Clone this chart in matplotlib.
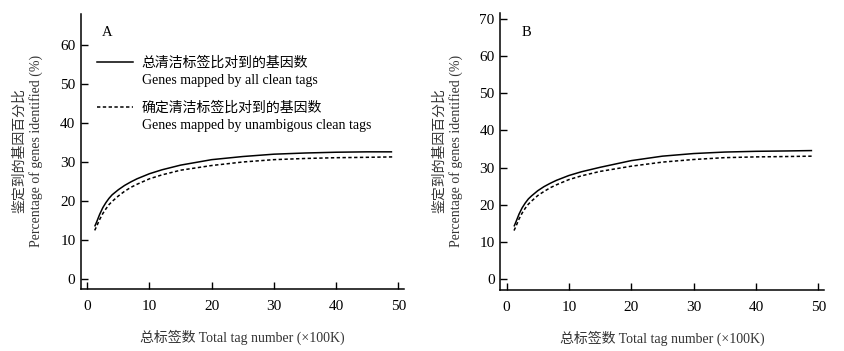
import matplotlib
matplotlib.use("Agg")
import matplotlib.pyplot as plt
from matplotlib.lines import Line2D

plt.rcParams['font.family'] = ['Liberation Serif', 'Noto Sans CJK SC']
plt.rcParams['font.size'] = 10

# Data
x_tags = [1.2, 1.5, 2, 2.5, 3, 3.5, 4, 5, 6, 7, 8, 10, 12, 15, 20, 25, 30, 35, 40, 45, 49]
a_all = [13.5, 14.6, 16.6, 18.3, 19.6, 20.7, 21.6, 22.9, 24.0, 24.9, 25.7, 27.0, 28.0, 29.2, 30.6, 31.4, 32.0, 32.3, 32.5, 32.6, 32.6]
a_unamb = [12.5, 13.5, 15.3, 16.8, 18.0, 19.1, 19.9, 21.3, 22.5, 23.5, 24.3, 25.7, 26.7, 27.9, 29.1, 30.0, 30.6, 30.9, 31.1, 31.2, 31.3]
b_all = [14.2, 15.4, 17.5, 19.2, 20.5, 21.6, 22.4, 23.8, 24.9, 25.8, 26.6, 27.9, 28.9, 30.1, 31.9, 33.1, 33.8, 34.2, 34.4, 34.5, 34.6]
b_unamb = [13.1, 14.2, 16.2, 17.8, 19.1, 20.2, 21.0, 22.5, 23.6, 24.6, 25.4, 26.8, 27.8, 29.0, 30.4, 31.5, 32.2, 32.7, 32.9, 33.0, 33.1]

xticks = [0, 10, 20, 30, 40, 50]
yticks_a = [0, 10, 20, 30, 40, 50, 60]
yticks_b = [0, 10, 20, 30, 40, 50, 60, 70]

label_all_zh = "总清洁标签比对到的基因数"
label_all_en = "Genes mapped by all clean tags"
label_un_zh = "确定清洁标签比对到的基因数"
label_un_en = "Genes mapped by unambigous clean tags"
ylabel_zh = "鉴定到的基因百分比"
ylabel_en = "Percentage of genes identified (%)"
xlabel = "总标签数 Total tag number (×100K)"

W, H = 844, 351
fig = plt.figure(figsize=(W / 100, H / 100), dpi=100)

def make_axes(l, r, b, t):
    return fig.add_axes([l / W, 1 - b / H, (r - l) / W, (b - t) / H])

axA = make_axes(81, 404, 289, 13.5)
axB = make_axes(500.3, 824, 289.7, 13.3)

dash = (0, (2.2, 1.6))
text_col = '#333333'

for ax, ya, yu, yt, ylim, letter in [
    (axA, a_all, a_unamb, yticks_a, (-2.5, 68), 'A'),
    (axB, b_all, b_unamb, yticks_b, (-2.8, 71.5), 'B'),
]:
    ax.plot(x_tags, ya, color='black', lw=1.1, solid_capstyle='butt')
    ax.plot(x_tags, yu, color='black', lw=1.1, linestyle=dash)
    ax.set_xlim(-1.0, 50.9)
    ax.set_ylim(*ylim)
    ax.set_xticks(xticks)
    ax.set_yticks(yt)
    for s in ['top', 'right']:
        ax.spines[s].set_visible(False)
    for s in ['left', 'bottom']:
        ax.spines[s].set_linewidth(1.1)
    ax.tick_params(direction='in', length=5, width=1.0, labelsize=11)
    ax.tick_params(axis='x', pad=8)
    ax.tick_params(axis='y', pad=4)
    ax.text(0.08, 0.93, letter, transform=ax.transAxes, fontsize=10.5,
            ha='center', va='center')
    ax.set_xlabel(xlabel, color=text_col, labelpad=12)

for xc in (20, 440):
    fig.text(xc / W, 1 - 151 / H, ylabel_zh, rotation=90,
             ha='center', va='center', color=text_col)
    fig.text((xc + 16) / W, 1 - 151 / H, ylabel_en, rotation=90,
             ha='center', va='center', color=text_col)

# Legend (panel A)
blank = Line2D([], [], color='none')
h_all = Line2D([], [], color='black', lw=1.1)
h_un = Line2D([], [], color='black', lw=1.1, linestyle=dash)
common = dict(frameon=False, loc='upper left', borderpad=0, borderaxespad=0,
              handlelength=2.6, handletextpad=0.6, labelspacing=0.3,
              fontsize=10)
leg1 = axA.legend([h_all, blank], [label_all_zh, label_all_en],
                  bbox_to_anchor=(0.05, 0.845), **common)
axA.add_artist(leg1)
leg2 = axA.legend([h_un, blank], [label_un_zh, label_un_en],
                  bbox_to_anchor=(0.05, 0.68), **common)

fig.savefig("out.png", dpi=100)
